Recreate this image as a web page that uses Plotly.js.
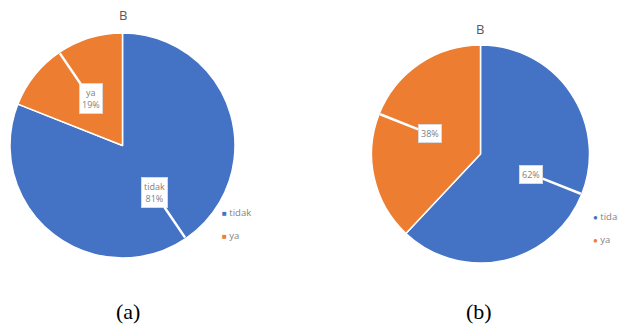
<!DOCTYPE html>
<html>
<head>
<meta charset="utf-8">
<script src="https://cdn.plot.ly/plotly-3.0.1.min.js"></script>
<style>html,body{margin:0;padding:0;background:#fff;}#chart{width:618px;height:326px;}</style>
</head>
<body>
<div id="chart"></div>
<script>
// ---- data ----
const labels = ['tidak', 'ya'];
const valuesA = [81, 19];
const valuesB = [62, 38];
const titles = ['B', 'B'];
const captions = ['(a)', '(b)'];
const colors = ['#4472C4', '#ED7D31'];

// ---- layout geometry (pixels) ----
const W = 618, H = 326;
const pies = [
  {values: valuesA, cx: 122.5, cy: 145.5, r: 112.5, showName: true, legend: 'legend', glyph: '■'},
  {values: valuesB, cx: 480.5, cy: 154, r: 109, showName: false, legend: 'legend2', glyph: '●'}
];
const px = x => x / W;
const py = y => 1 - y / H;

const data = [];
const annotations = [];
pies.forEach((p, k) => {
  data.push({
    type: 'pie', labels: labels, values: p.values, sort: false,
    direction: 'clockwise', rotation: 0,
    marker: {colors: colors, line: {color: '#ffffff', width: 1.5}},
    textinfo: 'none', hoverinfo: 'label+percent', showlegend: false,
    domain: {x: [px(p.cx - p.r), px(p.cx + p.r)], y: [py(p.cy + p.r), py(p.cy - p.r)]}
  });
  // legend entries (symbol drawn inline next to the name)
  labels.forEach((lab, i) => {
    data.push({
      type: 'scatter', mode: 'markers', x: [null], y: [null],
      name: '<span style="color:' + colors[i] + ';font-size:8px">' + p.glyph + '</span> ' + lab,
      legend: p.legend, legendgroup: p.legend + lab,
      marker: {size: 6, color: 'rgba(0,0,0,0)'}
    });
  });
  // callout labels
  const total = p.values.reduce((a, b) => a + b, 0);
  let cum = 0;
  p.values.forEach((v, i) => {
    const mid = (cum + v / 2) / total * 2 * Math.PI;
    cum += v;
    const sx = Math.sin(mid), sy = -Math.cos(mid);
    const tipX = p.cx + p.r * 0.99 * sx, tipY = p.cy + p.r * 0.99 * sy;
    const txtX = p.cx + p.r * 0.5 * sx, txtY = p.cy + p.r * 0.5 * sy;
    const pct = Math.round(v / total * 100) + '%';
    annotations.push({
      xref: 'paper', yref: 'paper', x: px(tipX), y: py(tipY),
      ax: txtX - tipX, ay: txtY - tipY, axref: 'pixel', ayref: 'pixel',
      text: p.showName ? labels[i] + '<br>' + pct : pct,
      showarrow: true, arrowhead: 0, arrowwidth: 2.5, arrowcolor: '#ffffff',
      bgcolor: '#ffffff', bordercolor: '#d9d9d9', borderwidth: 1, borderpad: 2,
      font: {family: 'Open Sans, sans-serif', size: 9, color: '#7f7f7f'}
    });
  });
});

const textAnn = (x, y, text, font) => ({
  xref: 'paper', yref: 'paper', x: px(x), y: py(y), xanchor: 'center', yanchor: 'middle',
  text: text, showarrow: false, font: font
});
const titleFont = {family: 'Open Sans, sans-serif', size: 13, color: '#595959'};
const capFont = {family: 'Liberation Serif, serif', size: 22, color: '#000000'};
annotations.push(textAnn(123, 15, titles[0], titleFont));
annotations.push(textAnn(480, 29, titles[1], titleFont));
annotations.push(textAnn(128, 311, captions[0], capFont));
annotations.push(textAnn(479, 311, captions[1], capFont));

const legendFont = {family: 'Open Sans, sans-serif', size: 9.5, color: '#7f7f7f'};
const layout = {
  width: W, height: H,
  margin: {l: 0, r: 0, t: 0, b: 0, autoexpand: false},
  paper_bgcolor: '#ffffff', plot_bgcolor: '#ffffff',
  xaxis: {visible: false}, yaxis: {visible: false},
  annotations: annotations,
  legend: {x: px(182), y: py(198), xanchor: 'left', yanchor: 'top', font: legendFont,
    bgcolor: 'rgba(0,0,0,0)', tracegroupgap: 4, itemwidth: 30},
  legend2: {x: px(553), y: py(202), xanchor: 'left', yanchor: 'top', font: legendFont,
    bgcolor: 'rgba(0,0,0,0)', tracegroupgap: 4, itemwidth: 30}
};
Plotly.newPlot('chart', data, layout, {displayModeBar: false, staticPlot: true});
</script>
</body>
</html>
